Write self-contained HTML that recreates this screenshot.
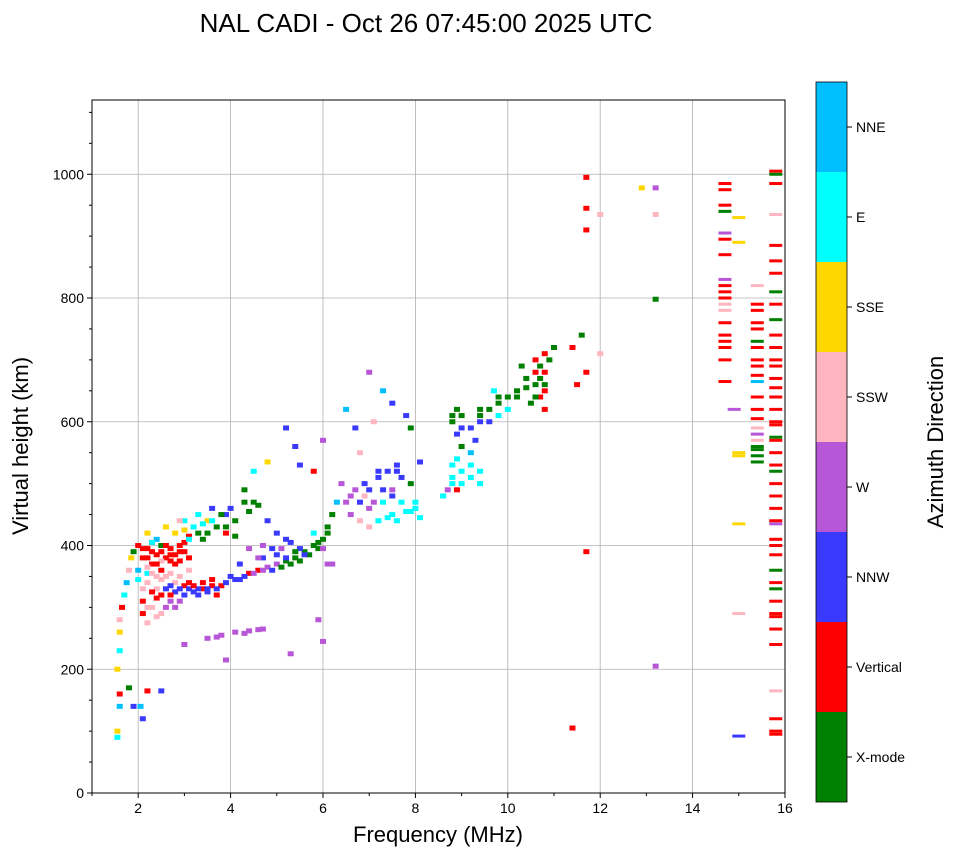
<!DOCTYPE html>
<html><head><meta charset="utf-8"><style>
body{margin:0;background:#fff;font-family:"Liberation Sans",sans-serif}
</style></head><body>
<svg id="c" width="958" height="857" xmlns="http://www.w3.org/2000/svg" font-family="Liberation Sans, sans-serif"></svg>
<script>
const xTicks=[2,4,6,8,10,12,14,16];
const yTicks=[0,200,400,600,800,1000];
const dirNames=["X-mode","Vertical","NNW","W","SSW","SSE","E","NNE"];
const dirColors=["#008000","#ff0000","#3a3aff","#b856d8","#ffb6c1","#ffd700","#00ffff","#00bfff"];
const freqs=[], heights=[], dirs=[];
const pts=[
[1.55,100,5],[1.55,90,6],[1.6,140,7],[1.6,160,1],[1.55,200,5],[1.6,230,6],[1.6,260,5],[1.6,280,4],[1.65,300,1],[1.7,320,6],[1.75,340,7],[1.8,360,4],[1.85,380,5],[1.9,390,0],[1.8,170,0],[1.9,140,2],[2.05,140,7],[2.2,165,1],[2.5,165,2],[2.1,120,2],
[2.0,400,1],[2.1,380,1],[2.2,395,1],[2.3,370,1],[2.4,385,1],[2.5,360,1],[2.6,380,1],[2.7,395,1],[2.8,370,1],[2.9,390,1],[3.0,405,1],[3.1,415,1],[2.2,340,4],[2.4,330,4],[2.6,350,4],[2.8,340,4],[2.3,300,4],[2.5,290,4],[2.1,310,1],[2.4,315,1],[2.6,330,2],[2.8,325,2],[3.0,320,2],[3.2,325,2],[3.4,330,1],[3.6,335,1],[3.8,335,1],[3.0,335,1],[2.9,310,3],[2.8,300,3],[2.2,420,5],[2.6,430,5],[3.0,440,6],[3.3,450,6],[3.5,440,5],[3.7,430,0],[3.5,420,0],[3.4,410,0],[3.2,430,6],[3.6,460,2],[3.9,450,2],[3.9,420,1],[4.1,415,0],[2.5,400,0],[2.4,410,7],[2.0,360,7],[2.2,355,6],
[2.3,390,1],[2.5,375,4],[2.7,385,1],[2.9,375,1],[3.3,330,2],[3.5,325,2],[2.7,320,1],[2.4,350,4],[3.1,340,1],[3.7,320,1],
[2.1,395,1],[2.2,380,1],[2.3,405,1],[2.4,370,1],[2.5,390,1],[2.6,400,1],[2.7,375,1],[2.8,385,1],[2.9,400,1],[3.0,390,1],[3.1,380,1],[2.2,365,4],[2.3,355,4],[2.5,345,4],[2.7,355,4],[2.9,350,4],[3.1,360,4],[2.1,330,4],[2.3,325,1],[2.5,320,1],[2.7,335,2],[2.9,330,2],[3.1,330,2],[3.3,320,2],[3.5,330,2],[3.7,330,2],[3.9,340,2],[3.2,335,1],[3.4,340,1],[3.6,345,1],[2.8,420,5],[3.0,425,5],[2.9,440,4],[3.1,410,6],[3.3,420,0],[3.4,435,6],[3.6,440,6],[3.8,450,0],[2.2,275,4],[2.4,285,4],[2.6,300,3],[2.7,310,3],[2.3,405,6],[2.0,345,6],[2.1,290,1],[2.2,300,4],
[4.0,350,2],[4.2,345,2],[4.4,355,1],[4.6,360,1],[4.8,365,3],[5.0,370,3],[4.7,380,2],[5.0,385,2],[5.2,375,0],[5.4,380,0],[5.6,390,0],[5.8,400,0],[6.0,410,0],[6.1,430,0],[6.2,450,0],[5.5,395,2],[5.3,405,2],[5.1,395,3],[6.3,470,7],[5.8,420,6],[6.1,370,3],[6.4,500,3],[6.6,480,3],[6.8,470,2],[7.0,490,2],[7.2,510,2],[7.4,520,2],[7.6,530,2],[6.6,450,3],[7.0,460,3],[7.2,440,6],[7.5,450,6],[7.8,455,6],[8.0,460,6],[7.3,470,6],[7.7,510,2],[7.9,500,0],[8.1,535,2],[7.5,490,3],[7.0,430,4],[4.0,460,2],[4.3,470,0],[4.5,470,0],[4.3,490,0],[4.8,440,2],[5.0,420,2],[4.7,400,3],
[4.1,345,2],[4.3,350,2],[4.5,355,3],[4.7,360,3],[4.9,360,2],[5.1,365,0],[5.3,370,0],[5.5,375,0],[5.7,385,0],[5.9,395,0],[5.2,380,2],[5.4,390,0],[5.6,385,2],[5.9,405,0],[6.1,420,0],[6.0,395,3],[6.2,370,3],[4.6,380,3],[4.9,395,2],[5.2,410,2],[4.4,395,3],[4.2,370,2],[4.4,455,0],[4.6,465,0],[4.1,440,0],[3.9,430,0],[6.5,470,3],[6.7,490,3],[6.9,500,2],[7.1,470,3],[7.3,490,2],[7.5,480,2],[7.7,470,6],[7.9,455,6],[8.1,445,6],[7.6,440,6],[7.4,445,6],[6.8,440,4],[7.2,520,2],[7.6,520,2],[8.0,470,6],[6.9,480,4],
[3.0,240,3],[3.5,250,3],[3.8,255,3],[4.1,260,3],[4.4,262,3],[4.7,265,3],[3.9,215,3],[5.3,225,3],[6.0,245,3],[5.9,280,3],[3.7,252,3],[4.3,258,3],[4.6,264,3],
[5.2,590,2],[5.4,560,2],[6.0,570,3],[6.5,620,7],[6.7,590,2],[6.8,550,4],[7.0,680,3],[7.3,650,7],[7.1,600,4],[7.5,630,2],[7.8,610,2],[7.9,590,0],[5.5,530,2],[4.8,535,5],[4.5,520,6],[5.8,520,1],
[8.6,480,6],[8.8,500,6],[9.0,520,6],[9.2,510,6],[9.4,500,6],[8.9,540,6],[9.2,550,7],[8.7,490,3],[8.9,490,1],[8.8,600,0],[8.9,580,2],[9.0,610,0],[9.2,590,2],[9.4,620,0],[9.6,600,2],[9.8,630,0],[10.0,640,0],[10.2,640,0],[10.4,655,0],[10.6,660,0],[10.7,640,1],[10.8,680,1],[10.9,700,0],[10.6,700,1],[10.3,690,0],[11.0,720,0],[11.4,720,1],[11.6,740,0],[9.7,650,6],[9.8,610,6],[9.0,560,0],[9.3,570,2],[10.8,620,1],[11.7,680,1],[11.5,660,1],[12.0,710,4],[10.5,630,0],[10.8,650,1],[10.7,670,0],[8.9,620,0],
[8.8,510,6],[8.8,530,6],[9.0,500,6],[9.2,530,6],[9.4,520,6],[9.0,590,2],[8.8,610,0],[9.4,600,2],[9.4,610,0],[9.6,620,0],[9.8,640,0],[10.0,620,6],[10.2,650,0],[10.4,670,0],[10.6,680,1],[10.7,690,0],[10.8,710,1],[10.6,640,0],[10.8,660,0],
[11.4,105,1],[11.7,390,1],[11.7,995,1],[11.7,945,1],[11.7,910,1],[12.0,935,4],[12.9,978,5],[13.2,978,3],[13.2,935,4],[13.2,798,0],[13.2,205,3],
[14.7,985,1],[14.7,975,1],[14.7,950,1],[14.7,940,0],[14.7,905,3],[14.7,895,1],[14.7,870,1],[14.7,830,3],[14.7,820,1],[14.7,810,1],[14.7,800,1],[14.7,790,4],[14.7,780,4],[14.7,760,1],[14.7,740,1],[14.7,730,1],[14.7,720,1],[14.7,700,1],[14.7,665,1],[14.9,620,3],
[15.0,930,5],[15.0,890,5],[15.0,550,5],[15.0,545,5],[15.0,435,5],[15.0,290,4],[15.0,92,2],
[15.4,820,4],[15.4,790,1],[15.4,780,1],[15.4,760,1],[15.4,750,1],[15.4,730,0],[15.4,720,1],[15.4,700,1],[15.4,690,1],[15.4,675,1],[15.4,665,7],[15.4,640,1],[15.4,620,1],[15.4,605,1],[15.4,590,4],[15.4,580,3],[15.4,570,4],[15.4,560,0],[15.4,555,0],[15.4,545,0],[15.4,535,0],
[15.8,1005,1],[15.8,1000,0],[15.8,985,1],[15.8,935,4],[15.8,885,1],[15.8,860,1],[15.8,840,1],[15.8,810,0],[15.8,790,1],[15.8,765,0],[15.8,740,1],[15.8,720,1],[15.8,700,1],[15.8,690,1],[15.8,670,1],[15.8,655,1],[15.8,640,1],[15.8,620,1],[15.8,600,1],[15.8,595,1],[15.8,575,0],[15.8,570,1],[15.8,550,1],[15.8,530,1],[15.8,520,0],[15.8,500,1],[15.8,480,1],[15.8,460,1],[15.8,440,1],[15.8,435,3],[15.8,410,1],[15.8,400,1],[15.8,385,1],[15.8,360,0],[15.8,340,1],[15.8,330,0],[15.8,310,1],[15.8,290,1],[15.8,285,1],[15.8,265,1],[15.8,240,1],[15.8,165,4],[15.8,120,1],[15.8,100,1],[15.8,95,1]
];
pts.forEach(p=>{freqs.push(p[0]);heights.push(p[1]);dirs.push(p[2]);});

const X0=92,X1=785,Y0=793,Y1=100;
const xs=f=>X0+(f-1)/(16-1)*(X1-X0);
const ys=h=>Y0-h/1120*(Y0-Y1);
const svg=document.getElementById('c');
const NS="http://www.w3.org/2000/svg";
function mk(t,a,p){const e=document.createElementNS(NS,t);for(const k in a)e.setAttribute(k,a[k]);(p||svg).appendChild(e);return e;}

const title=mk('text',{x:426,y:32,'font-size':26,'text-anchor':'middle'});


title.textContent="NAL CADI - Oct 26 07:45:00 2025 UTC";

xTicks.forEach(t=>{const l=mk('line',{x1:xs(t),x2:xs(t),y1:Y1,y2:Y0,stroke:'#b0b0b0','stroke-width':0.8});
});
yTicks.forEach(t=>{const l=mk('line',{x1:X0,x2:X1,y1:ys(t),y2:ys(t),stroke:'#b0b0b0','stroke-width':0.8});
});

const g=mk('g',{});


for(let i=0;i<freqs.length;i++){
  const wide=freqs[i]>=14.5;
  const w=wide?13:6, h=wide?3:5;
  const r=mk('rect',{x:xs(freqs[i])-w/2,y:ys(heights[i])-h/2,width:w,height:h,fill:dirColors[dirs[i]]},g);
  
  
}

const fr=mk('rect',{x:X0,y:Y1,width:X1-X0,height:Y0-Y1,fill:'none',stroke:'#000','stroke-width':1});

xTicks.forEach(t=>{mk('line',{x1:xs(t),x2:xs(t),y1:Y0,y2:Y0+5,stroke:'#000'});
const tx=mk('text',{x:xs(t),y:Y0+20,'font-size':14,'text-anchor':'middle'});
tx.textContent=t;});
for(let t=1;t<16;t+=2)mk('line',{x1:xs(t),x2:xs(t),y1:Y0,y2:Y0+3,stroke:'#000'});
yTicks.forEach(t=>{mk('line',{x1:X0-5,x2:X0,y1:ys(t),y2:ys(t),stroke:'#000'});
const tx=mk('text',{x:X0-8,y:ys(t)+5,'font-size':14,'text-anchor':'end'});
tx.textContent=t;});
for(let t=50;t<1120;t+=50)if(t%200)mk('line',{x1:X0-3,x2:X0,y1:ys(t),y2:ys(t),stroke:'#000'});

const xl=mk('text',{x:438,y:842,'font-size':22,'text-anchor':'middle'});
xl.textContent="Frequency (MHz)";
const yl=mk('text',{x:28,y:446,'font-size':22,'text-anchor':'middle',transform:'rotate(-90 28 446)'});
yl.textContent="Virtual height (km)";

const cb=mk('g',{});

const CB0=82,CB1=802,seg=(CB1-CB0)/dirNames.length;
for(let i=0;i<dirNames.length;i++){
  const yTop=CB1-(i+1)*seg;
  const r=mk('rect',{x:816,y:yTop,width:31,height:seg,fill:dirColors[i]},cb);
  
  mk('line',{x1:847,x2:852,y1:yTop+seg/2,y2:yTop+seg/2,stroke:'#000'},cb);
  const t=mk('text',{x:856,y:yTop+seg/2+5,'font-size':14},cb);
  t.textContent=dirNames[i];
}
mk('rect',{x:816,y:CB0,width:31,height:CB1-CB0,fill:'none',stroke:'#000','stroke-width':0.8},cb);
const cl=mk('text',{x:943,y:442,'font-size':22,'text-anchor':'middle',transform:'rotate(-90 943 442)'});
cl.textContent="Azimuth Direction";
</script>
</body></html>
